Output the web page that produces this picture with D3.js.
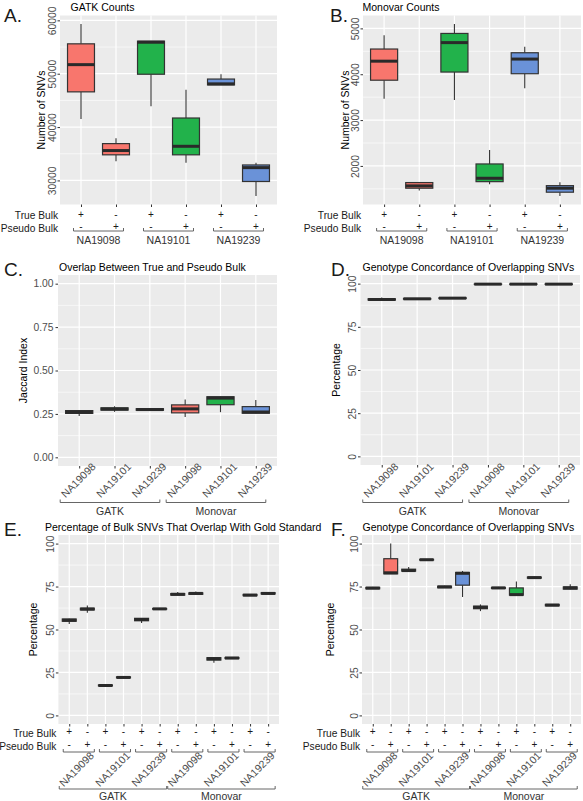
<!DOCTYPE html>
<html><head><meta charset="utf-8">
<script src="https://cdn.jsdelivr.net/npm/d3@7"></script>
<style>body{margin:0;background:#fff;}</style>
</head><body><svg id="c" width="583" height="801"></svg>
<script>
const samples = ["NA19098","NA19101","NA19239"];
const sampleColors = ["#F8766D","#22B24B","#6A92D8"];
const callers = ["GATK","Monovar"];
const trueBulkMarks = ["+","-"];
const pseudoBulkMarks = ["-","+"];

// box statistics: [min, q1, median, q3, max]
// A. GATK counts (NA19098 true, pseudo, NA19101 true, pseudo, NA19239 true, pseudo)
const gatkCounts = [
  [41500,46600,51700,55600,59300],
  [33600,34800,35600,36900,37900],
  [43900,49900,55900,56100,56100],
  [33300,34800,36400,41700,47000],
  [47900,47900,48100,49000,49900],
  [27100,29800,32400,32900,33300]
];
// B. Monovar counts
const monovarCounts = [
  [3467,3870,4285,4550,4850],
  [1464,1514,1565,1637,1637],
  [3440,4048,4690,4890,5094],
  [1601,1657,1731,2043,2348],
  [3693,4011,4331,4469,4600],
  [1346,1427,1514,1570,1645]
];
// C. Jaccard index (GATK x3 samples, Monovar x3 samples)
const jaccard = [
  [0.238,0.253,0.260,0.269,0.271],
  [0.262,0.272,0.278,0.285,0.294],
  [0.269,0.271,0.275,0.280,0.282],
  [0.232,0.256,0.279,0.302,0.333],
  [0.260,0.303,0.341,0.349,0.351],
  [0.252,0.254,0.261,0.292,0.330]
];
// D. Genotype concordance of overlapping SNVs
const concordance = [
  [90.0,90.5,90.8,91.2,92.0],
  [90.7,91.0,91.2,91.4,91.6],
  [91.2,91.4,91.6,91.8,92.0],
  [99.5,99.6,99.7,99.8,99.9],
  [99.5,99.6,99.7,99.8,99.9],
  [99.5,99.6,99.7,99.8,99.9]
];
// E. Percentage of bulk SNVs overlapping gold standard (caller x sample x true/pseudo)
const goldOverlap = [
  [53.2,54.8,55.4,56.1,56.3],
  [59.8,61.4,61.9,62.4,64.0],
  [17.1,17.2,17.4,17.7,17.8],
  [21.8,21.9,22.1,22.4,22.5],
  [53.8,55.1,55.8,56.5,56.7],
  [61.7,61.8,62.0,62.2,62.3],
  [69.8,70.0,70.5,70.9,71.8],
  [70.4,70.5,71.0,71.3,72.1],
  [30.7,32.2,33.0,33.6,33.8],
  [33.0,33.1,33.4,33.7,33.8],
  [69.6,69.7,70.0,70.4,70.5],
  [70.6,70.7,71.0,71.4,71.5]
];
// F. Genotype concordance of overlapping SNVs (caller x sample x true/pseudo)
const concordanceBulk = [
  [73.6,73.7,74.1,74.5,74.7],
  [82.4,82.4,83.0,91.2,100.0],
  [83.9,84.0,84.3,85.1,86.4],
  [90.3,90.4,90.6,90.8,90.9],
  [74.2,74.3,74.8,75.2,75.4],
  [68.9,75.8,82.7,83.2,84.1],
  [60.7,62.1,62.9,63.6,64.6],
  [73.8,73.9,74.2,74.5,74.7],
  [69.9,70.0,70.3,74.2,77.9],
  [79.8,79.9,80.2,80.5,80.7],
  [63.7,63.8,64.2,64.6,64.8],
  [73.4,73.5,74.2,74.8,76.3]
];

const FONT = "'Liberation Sans', Arial, Helvetica, sans-serif";
const svg = d3.select("#c");

function padDomain(stats){
  const lo = d3.min(stats, d => d[0]), hi = d3.max(stats, d => d[4]);
  const p = (hi - lo) * 0.05;
  return [lo - p, hi + p];
}

function panel(o){
  const g = svg.append("g");
  const n = o.stats.length;
  const x = d3.scalePoint().domain(d3.range(n)).range([o.x0, o.x1]).padding(0.6);
  const y = d3.scaleLinear().domain(o.yDomain).range([o.y1, o.y0]);
  const bw = x.step() * 0.77;

  g.append("rect").attr("x", o.x0).attr("y", o.y0)
    .attr("width", o.x1 - o.x0).attr("height", o.y1 - o.y0).attr("fill", "#EBEBEB");
  g.append("g").selectAll("line").data(o.minor).join("line")
    .attr("x1", o.x0).attr("x2", o.x1).attr("y1", d => y(d)).attr("y2", d => y(d))
    .attr("stroke", "#fff").attr("stroke-width", 0.6);
  g.append("g").selectAll("line").data(o.ticks).join("line")
    .attr("x1", o.x0).attr("x2", o.x1).attr("y1", d => y(d)).attr("y2", d => y(d))
    .attr("stroke", "#fff").attr("stroke-width", 1.2);
  g.append("g").selectAll("line").data(d3.range(n)).join("line")
    .attr("x1", i => x(i)).attr("x2", i => x(i)).attr("y1", o.y0).attr("y2", o.y1)
    .attr("stroke", "#fff").attr("stroke-width", 1.2);

  const bx = g.append("g").selectAll("g").data(o.stats).join("g");
  bx.append("line").attr("x1", (d,i) => x(i)).attr("x2", (d,i) => x(i))
    .attr("y1", d => y(d[4])).attr("y2", d => y(d[3]))
    .attr("stroke", "#333").attr("stroke-width", 1.1);
  bx.append("line").attr("x1", (d,i) => x(i)).attr("x2", (d,i) => x(i))
    .attr("y1", d => y(d[1])).attr("y2", d => y(d[0]))
    .attr("stroke", "#333").attr("stroke-width", 1.1);
  bx.append("rect").attr("x", (d,i) => x(i) - bw/2).attr("y", d => y(d[3]))
    .attr("width", bw).attr("height", d => Math.max(0.1, y(d[1]) - y(d[3])))
    .attr("fill", (d,i) => sampleColors[o.sampleOf(i)])
    .attr("stroke", "#333").attr("stroke-width", 1.2);
  bx.append("line").attr("x1", (d,i) => x(i) - bw/2).attr("x2", (d,i) => x(i) + bw/2)
    .attr("y1", d => y(d[2])).attr("y2", d => y(d[2]))
    .attr("stroke", "#2a2a2a").attr("stroke-width", 3);

  const ya = d3.axisLeft(y).tickValues(o.ticks).tickSize(2.5).tickPadding(2).tickFormat(o.fmt);
  const yg = g.append("g").attr("transform", `translate(${o.x0},0)`).call(ya)
    .attr("font-family", FONT).attr("font-size", 10.3);
  yg.select(".domain").remove();
  yg.selectAll("line").attr("stroke", "#333");
  yg.selectAll("text").attr("fill", "#4D4D4D");
  if (o.rotY) {
    yg.selectAll("text").attr("x", null).attr("dy", null).attr("text-anchor", "middle")
      .attr("transform", "translate(-4.5,0) rotate(-90)");
  }
  const xa = d3.axisBottom(x).tickSize(2.5).tickFormat("");
  const xg = g.append("g").attr("transform", `translate(0,${o.y1})`).call(xa);
  xg.select(".domain").remove();
  xg.selectAll("line").attr("stroke", "#333");

  // titles
  g.append("text").attr("x", o.letterX).attr("y", o.y0 + o.letterDy).text(o.letter)
    .attr("font-family", FONT).attr("font-size", 19).attr("fill", "#1a1a1a");
  g.append("text").attr("x", o.titleX).attr("y", o.y0 - 4.5).text(o.title)
    .attr("font-family", FONT).attr("font-size", 10.5).attr("fill", "#000");
  g.append("text").attr("transform", `translate(${o.yTitleX},${(o.y0 + o.y1)/2}) rotate(-90)`)
    .attr("text-anchor", "middle").text(o.yTitle)
    .attr("font-family", FONT).attr("font-size", 10.5).attr("fill", "#000");
  return {g, x, y};
}

function bracket(g, xa, xb, yb, h){
  g.append("path").attr("d", `M${xa},${yb - h}V${yb}H${xb}V${yb - h}`)
    .attr("fill", "none").attr("stroke", "#555").attr("stroke-width", 0.9);
}

function bulkRows(g, x, n, x0, r1, r2){
  g.append("text").attr("x", x0 - 2).attr("y", r1).attr("text-anchor", "end").text("True Bulk")
    .attr("font-family", FONT).attr("font-size", 10.2).attr("fill", "#1a1a1a");
  g.append("text").attr("x", x0 - 2).attr("y", r2).attr("text-anchor", "end").text("Pseudo Bulk")
    .attr("font-family", FONT).attr("font-size", 10.2).attr("fill", "#1a1a1a");
  d3.range(n).forEach(i => {
    g.append("text").attr("x", x(i)).attr("y", r1 - 1.5).attr("text-anchor", "middle")
      .text(trueBulkMarks[i % 2]).attr("font-family", FONT).attr("font-size", 10).attr("fill", "#1a1a1a");
    g.append("text").attr("x", x(i)).attr("y", r2 - 1.5).attr("text-anchor", "middle")
      .text(pseudoBulkMarks[i % 2]).attr("font-family", FONT).attr("font-size", 10).attr("fill", "#1a1a1a");
  });
}

function rotLabel(g, cx, cy, t){
  g.append("text").attr("transform", `translate(${cx},${cy}) rotate(-45)`)
    .attr("text-anchor", "middle").attr("dominant-baseline", "central").text(t)
    .attr("font-family", FONT).attr("font-size", 10.5).attr("fill", "#4D4D4D");
}
function groupLabel(g, cx, by, t){
  g.append("text").attr("x", cx).attr("y", by).attr("text-anchor", "middle").text(t)
    .attr("font-family", FONT).attr("font-size", 10.5).attr("fill", "#333");
}

const countMinor = {A:[35000,45000,55000], B:[1500,2500,3500,4500]};
const pctTicks = [0,25,50,75,100], pctMinor = [12.5,37.5,62.5,87.5];

function countsPanel(o){
  const p = panel(o);
  bulkRows(p.g, p.x, 6, o.x0, 219, 231.5);
  samples.forEach((s, k) => {
    const xa = p.x(2*k) - 7.5, xb = p.x(2*k+1) + 7.5;
    bracket(p.g, xa, xb, 231, 3);
    groupLabel(p.g, (xa + xb)/2, 243.5, s);
  });
}
countsPanel({stats: gatkCounts, x0: 60, x1: 277, y0: 15.5, y1: 204.5, yDomain: padDomain(gatkCounts),
  ticks: [30000,40000,50000,60000], minor: countMinor.A, fmt: d3.format("d"), rotY: true,
  sampleOf: i => Math.floor(i/2), letter: "A.", letterX: 4, letterDy: 6, title: "GATK Counts", titleX: 70.5,
  yTitle: "Number of SNVs", yTitleX: 45});
countsPanel({stats: monovarCounts, x0: 363, x1: 581, y0: 15.5, y1: 204.5, yDomain: padDomain(monovarCounts),
  ticks: [2000,3000,4000,5000], minor: countMinor.B, fmt: d3.format("d"), rotY: true,
  sampleOf: i => Math.floor(i/2), letter: "B.", letterX: 330, letterDy: 6, title: "Monovar Counts", titleX: 362.5,
  yTitle: "Number of SNVs", yTitleX: 348.5});

function callerPanel(o){
  const p = panel(o);
  d3.range(6).forEach(i => rotLabel(p.g, p.x(i) - 1, 480, samples[i % 3]));
  callers.forEach((c, k) => {
    const xa = p.x(3*k) - 19, xb = p.x(3*k+2) + 10;
    bracket(p.g, xa, xb, 502.5, 3);
    groupLabel(p.g, (xa + xb)/2, 515, c);
  });
}
callerPanel({stats: jaccard, x0: 58, x1: 277, y0: 275, y1: 466, yDomain: [-0.05, 1.05],
  ticks: [0,0.25,0.5,0.75,1], minor: [0.125,0.375,0.625,0.875], fmt: d3.format(".2f"), rotY: false,
  sampleOf: i => i % 3, letter: "C.", letterX: 4, letterDy: 1, title: "Overlap Between True and Pseudo Bulk", titleX: 59,
  yTitle: "Jaccard Index", yTitleX: 27});
callerPanel({stats: concordance, x0: 360.5, x1: 580, y0: 275, y1: 465, yDomain: [-5, 105],
  ticks: pctTicks, minor: pctMinor, fmt: d3.format("d"), rotY: true,
  sampleOf: i => i % 3, letter: "D.", letterX: 331, letterDy: 1, title: "Genotype Concordance of Overlapping SNVs", titleX: 362.5,
  yTitle: "Percentage", yTitleX: 340});

function fullPanel(o){
  const p = panel(o);
  bulkRows(p.g, p.x, 12, o.x0, 736.5, 749.5);
  d3.range(6).forEach(k => {
    const xa = p.x(2*k) - 6, xb = p.x(2*k+1) + 7;
    bracket(p.g, xa, xb, 752, 3);
    rotLabel(p.g, (p.x(2*k) + p.x(2*k+1))/2 - 2, 769, samples[k % 3]);
  });
  callers.forEach((c, k) => {
    const xa = p.x(6*k) - 10, xb = p.x(6*k+5) + 7;
    bracket(p.g, xa, xb, 789, 3);
    groupLabel(p.g, (xa + xb)/2, 800, c);
  });
}
fullPanel({stats: goldOverlap, x0: 58.4, x1: 279, y0: 535, y1: 724, yDomain: [-5, 105],
  ticks: pctTicks, minor: pctMinor, fmt: d3.format("d"), rotY: true,
  sampleOf: i => Math.floor(i/2) % 3, letter: "E.", letterX: 4, letterDy: 1,
  title: "Percentage of Bulk SNVs That Overlap With Gold Standard", titleX: 45,
  yTitle: "Percentage", yTitleX: 37});
fullPanel({stats: concordanceBulk, x0: 362, x1: 581, y0: 535, y1: 724, yDomain: [-5, 105],
  ticks: pctTicks, minor: pctMinor, fmt: d3.format("d"), rotY: true,
  sampleOf: i => Math.floor(i/2) % 3, letter: "F.", letterX: 331, letterDy: 1,
  title: "Genotype Concordance of Overlapping SNVs", titleX: 362.5,
  yTitle: "Percentage", yTitleX: 333.5});
</script></body></html>
